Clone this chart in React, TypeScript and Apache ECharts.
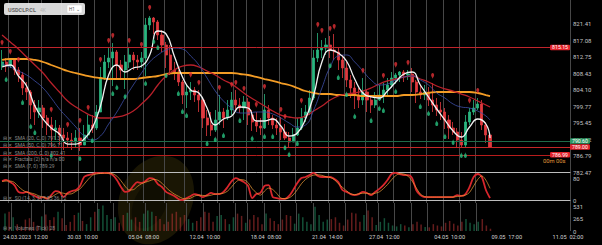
import React, { useEffect, useRef } from 'react';
import * as echarts from 'echarts';

// ---------- data ----------
const firstOpen = 810.28;
const closes = [
  811.33, 810.28, 811.86, 809.23, 807.92, 804.51, 803.46, 800.05, 798.21, 799.26,
  796.64, 794.80, 793.49, 794.01, 792.18, 791.39, 790.86, 790.34, 791.39, 789.55,
  792.18, 794.80, 794.01, 798.21, 807.13, 811.33, 812.38, 813.96, 810.54, 809.23,
  811.33, 813.17, 811.86, 811.33, 812.38, 821.04, 822.88, 821.83, 818.42, 815.79,
  813.17, 809.23, 808.71, 806.08, 802.67, 803.46, 803.98, 802.67, 801.36, 796.64,
  794.80, 793.49, 796.11, 798.21, 796.64, 798.74, 801.36, 800.05, 799.26, 800.84,
  797.42, 795.59, 794.54, 794.01, 798.74, 796.64, 794.80, 794.01, 792.96, 791.39,
  790.34, 792.18, 794.01, 796.64, 798.21, 801.88, 812.38, 814.48, 815.00, 815.79,
  814.48, 813.96, 811.86, 809.76, 806.61, 804.51, 802.67, 801.36, 803.46, 801.36,
  800.05, 801.36, 802.67, 803.98, 805.30, 807.13, 807.92, 808.71, 807.92, 808.18,
  806.08, 803.46, 802.67, 803.46, 801.36, 800.05, 798.74, 798.21, 796.11, 794.01,
  792.96, 790.86, 789.55, 795.59, 798.21, 799.26, 800.31, 794.80, 792.18, 789.00,
];
const highs = [
  814.48, 812.38, 812.12, 812.38, 810.02, 808.71, 806.08, 803.98, 801.36, 801.36,
  800.05, 797.42, 796.90, 796.11, 794.80, 794.01, 792.96, 792.70, 793.49, 794.01,
  794.80, 797.42, 797.42, 800.05, 810.02, 813.17, 815.00, 816.32, 814.48, 811.86,
  813.17, 815.00, 813.96, 813.17, 813.96, 822.88, 823.40, 823.14, 822.35, 819.73,
  816.58, 815.79, 811.33, 809.23, 806.61, 805.30, 806.08, 804.77, 803.98, 801.88,
  798.74, 798.21, 798.74, 802.67, 799.26, 801.36, 803.46, 803.98, 801.88, 802.41,
  801.88, 798.74, 798.21, 796.64, 802.93, 800.05, 797.42, 796.64, 796.90, 795.06,
  792.96, 794.01, 796.64, 799.26, 800.05, 803.98, 814.48, 818.94, 817.10, 817.63,
  818.15, 818.68, 815.00, 813.17, 811.33, 807.92, 806.08, 804.51, 807.13, 803.98,
  802.67, 803.46, 805.30, 805.82, 807.13, 808.71, 808.44, 808.97, 809.23, 809.23,
  809.76, 806.61, 805.30, 805.30, 804.77, 805.82, 801.88, 800.84, 799.26, 797.42,
  795.59, 794.01, 792.96, 797.42, 799.26, 801.36, 801.88, 801.36, 795.59, 792.70,
];
const lows = [
  809.23, 808.71, 809.76, 807.92, 806.08, 802.67, 801.36, 796.37, 794.80, 796.64,
  794.01, 792.18, 788.76, 790.86, 789.55, 788.24, 788.76, 788.24, 788.76, 787.98,
  789.55, 791.39, 792.70, 793.49, 798.21, 806.61, 809.76, 805.03, 806.61, 807.13,
  804.25, 809.76, 809.23, 809.23, 809.76, 807.66, 819.73, 818.68, 817.10, 813.96,
  809.76, 807.92, 806.61, 805.03, 800.31, 799.26, 801.36, 800.84, 798.21, 794.01,
  791.91, 791.91, 792.96, 794.80, 794.01, 796.11, 797.42, 798.21, 797.95, 796.11,
  794.80, 793.23, 792.96, 792.18, 793.75, 794.80, 793.75, 792.18, 790.86, 790.86,
  789.03, 790.34, 791.91, 793.49, 795.59, 797.42, 801.36, 811.33, 812.38, 813.17,
  812.38, 811.86, 809.23, 807.13, 804.77, 801.88, 799.00, 799.26, 800.05, 798.21,
  797.95, 799.26, 801.10, 800.57, 802.67, 804.51, 805.56, 806.08, 806.08, 806.61,
  803.46, 800.57, 801.62, 801.36, 799.79, 798.21, 797.16, 796.11, 793.75, 791.13,
  792.18, 788.76, 788.76, 788.76, 794.80, 797.42, 798.74, 793.49, 790.08, 788.76,
];
const volumes = [
  380, 420, 300, 150, 90, 250, 280, 200, 120, 320, 360, 240, 300, 420, 280, 130,
  200, 350, 400, 220, 150, 300, 420, 480, 560, 350, 260, 300, 180, 350, 400, 250,
  300, 200, 380, 450, 420, 330, 260, 150, 200, 380, 420, 300, 350, 260, 180, 220,
  300, 420, 400, 200, 330, 350, 260, 150, 300, 380, 330, 180, 250, 350, 300, 150,
  380, 280, 220, 150, 250, 350, 330, 160, 380, 300, 200, 150, 530, 350, 200, 250,
  260, 300, 180, 120, 250, 400, 380, 200, 350, 450, 300, 130, 200, 280, 180, 120,
  100, 150, 120, 80, 150, 200, 140, 90, 80, 150, 120, 100, 180, 220, 160, 120,
  200, 260, 180, 150, 200, 260, 120, 50,
];
const stochMain = [
  70, 74, 66, 55, 30, 26, 30, 22, 15, 7, 11, 4, 18, 33, 30, 11, 26, 33, 37, 52,
  85, 92, 96, 100, 99, 100, 99, 92, 74, 48, 30, 33, 52, 66, 63, 70, 81, 78, 59, 48,
  30, 22, 15, 4, 0, 7, 15, 22, 18, 11, 18, 26, 22, 22, 30, 48, 70, 81, 74, 66,
  52, 7, 22, 26, 52, 55, 11, 7, 4, 4, 15, 37, 63, 81, 85, 92, 100, 89, 85, 85,
  85, 78, 66, 37, 30, 22, 18, 22, 30, 26, 18, 30, 41, 55, 74, 96, 100, 96, 92, 92,
  81, 37, 18, 11, 11, 11, 11, 11, 11, 11, 11, 18, 15, 22, 48, 85, 96, 85, 37, 7,
];
const stochSignal = [
  68, 70, 70, 65, 50, 37, 29, 26, 22, 15, 11, 7, 11, 20, 27, 25, 22, 23, 32, 41,
  58, 76, 91, 96, 98, 99, 99, 97, 88, 71, 51, 37, 38, 50, 60, 66, 71, 76, 73, 62,
  46, 33, 22, 14, 6, 4, 7, 15, 18, 17, 15, 18, 22, 23, 25, 33, 49, 66, 75, 74,
  64, 42, 27, 18, 33, 44, 39, 24, 7, 5, 8, 19, 38, 60, 76, 86, 92, 93, 91, 86,
  83, 76, 60, 47, 34, 23, 20, 23, 25, 25, 22, 25, 30, 42, 57, 75, 90, 97, 96, 88,
  70, 45, 22, 13, 11, 11, 11, 11, 11, 11, 11, 13, 15, 18, 28, 52, 76, 89, 73, 43,
];
// moving averages, one value per two candles (last one on the final candle)
const sma20 = [
  810.02, 810.54, 807.66, 805.03, 799.79, 796.37, 794.01, 792.44, 789.81, 789.81,
  791.13, 794.01, 799.79, 807.92, 810.54, 808.71, 809.76, 810.28, 813.17, 819.47,
  818.68, 812.91, 807.40, 803.98, 803.20, 799.26, 794.80, 796.37, 797.16, 799.52,
  799.26, 795.85, 795.85, 796.37, 794.54, 791.91, 792.70, 796.37, 802.67, 811.33,
  814.48, 813.69, 811.59, 806.87, 803.20, 802.15, 801.88, 803.72, 806.08, 808.18,
  808.71, 805.30, 802.15, 799.00, 796.11, 793.23, 791.65, 794.28, 796.37, 795.06,
  791.39,
];
const sma50 = [
  810.81, 810.02, 808.97, 807.92, 806.35, 804.51, 801.88, 799.00, 796.64, 794.28,
  791.91, 790.86, 791.91, 795.06, 798.21, 801.88, 805.30, 808.44, 811.33, 813.17,
  814.48, 815.00, 814.74, 812.91, 810.54, 807.13, 803.72, 801.10, 799.26, 797.95,
  797.95, 798.21, 798.21, 797.69, 796.64, 795.33, 794.28, 794.80, 798.74, 804.51,
  810.02, 812.91, 813.17, 811.33, 808.97, 806.61, 805.30, 805.56, 806.61, 807.40,
  807.66, 806.61, 805.30, 803.20, 801.88, 800.31, 799.52, 799.26, 798.47, 797.16,
  796.11,
];
const sma100 = [
  818.42, 816.58, 814.74, 812.64, 810.54, 808.44, 805.82, 803.46, 801.10, 799.52,
  798.21, 797.16, 796.64, 796.64, 796.90, 797.42, 798.47, 800.31, 802.41, 805.30,
  807.66, 809.23, 810.28, 810.54, 810.02, 808.97, 807.92, 806.61, 805.56, 803.98,
  802.41, 801.10, 799.79, 798.47, 797.42, 796.90, 796.64, 797.16, 798.47, 799.79,
  801.36, 802.41, 802.93, 803.20, 803.72, 804.51, 805.56, 806.35, 806.87, 807.40,
  807.66, 806.87, 806.08, 805.03, 804.25, 803.72, 802.93, 802.15, 801.10, 800.05,
  799.52,
];
const sma200 = [
  811.86, 812.12, 812.12, 812.12, 811.86, 811.33, 810.54, 809.76, 808.97, 808.44,
  807.92, 807.40, 807.13, 806.87, 806.87, 806.87, 806.87, 807.13, 807.40, 807.66,
  808.18, 808.44, 808.44, 808.44, 808.44, 808.44, 808.44, 808.44, 808.44, 808.18,
  807.92, 807.40, 806.87, 806.35, 805.82, 805.30, 804.51, 803.72, 803.20, 802.93,
  802.93, 802.67, 802.67, 802.67, 802.41, 802.41, 802.41, 802.41, 802.41, 802.67,
  802.67, 802.93, 803.20, 803.46, 803.46, 803.46, 803.46, 803.46, 803.20, 802.67,
  802.41,
];
const fractalUp = [
  [0, 815.53], [2, 813.17], [4, 811.07], [12, 797.95], [16, 794.01], [19, 795.06],
  [21, 798.47], [24, 811.07], [26, 816.05], [27, 817.37], [31, 816.05], [34, 815.0],
  [36, 824.71], [46, 807.13], [48, 805.03], [53, 803.72], [56, 804.51], [57, 805.03],
  [59, 803.46], [62, 799.26], [64, 803.98], [68, 797.95], [69, 796.11], [73, 800.31],
  [77, 820.25], [78, 818.68], [80, 819.2], [81, 819.73], [88, 808.18], [93, 806.87],
  [96, 809.76], [99, 810.28], [105, 806.87], [114, 800.31], [116, 802.93],
];
const fractalDown = [
  [1, 807.66], [5, 801.62], [7, 795.33], [8, 793.75], [12, 787.72], [19, 786.93],
  [22, 791.65], [27, 803.98], [28, 805.56], [30, 803.2], [35, 806.61], [37, 817.63],
  [38, 816.05], [40, 808.71], [43, 803.98], [44, 799.26], [45, 798.21], [50, 790.86],
  [52, 791.91], [54, 792.96], [58, 796.9], [61, 792.18], [64, 792.7], [66, 792.7],
  [69, 789.81], [70, 787.98], [72, 790.86], [80, 811.33], [82, 808.18], [84, 803.72],
  [86, 797.95], [90, 796.9], [92, 800.05], [93, 799.52], [96, 804.51], [102, 800.57],
  [104, 798.74], [106, 796.11], [108, 792.7], [110, 791.13], [112, 787.72], [113, 787.72],
];
const tickLabels = [
  '24.03.2023  12:00', '30.03  10:00', '05.04  08:00', '12.04  10:00', '18.04  08:00',
  '21.04  14:00', '27.04  12:00', '04.05  10:00', '09.05  17:00', '11.05  02:00',
];
const tickIndex = [5, 19, 34, 49, 64, 79, 93, 109, 123, 138];
const dayBreaks = [2, 7, 10, 15, 19, 23, 27, 31, 35, 40, 45, 49, 53, 57, 60, 64, 68, 72, 76, 80, 84, 89, 92, 96, 100, 104, 108, 112, 116];
const priceTicks = [821.41, 817.08, 812.75, 808.43, 804.1, 799.77, 795.45, 791.12, 786.79, 782.47];
const oscTicks = [0, 80];
const volTicks = [0, 265, 531];
const resistance = 815.15;
const askLevel = 790.6;
const bidLevel = 789.0;
const supportLevel = 786.99;
const slotCount = 139;

// ---------- derived structures ----------
const categories = Array.from({ length: slotCount }, (_, i) => 'c' + i);
const labelMap: Record<number, string> = {};
tickIndex.forEach((idx, k) => { labelMap[idx] = tickLabels[k]; });
const breakSet = new Set(dayBreaks);
const opens = closes.map((c, i) => (i === 0 ? firstOpen : closes[i - 1]));
const candleData = closes.map((c, i) => [opens[i], c, lows[i], highs[i]]);
const maIdx = [...Array.from({ length: 60 }, (_, k) => 2 * k), 119];
const pairs = (arr: number[]) => arr.map((v, k) => [maIdx[k], v]);

const UP = '#2ab57f';
const DOWN = '#e0393e';
const FONT = 'Roboto, sans-serif';

function xAxis(gridIndex: number) {
  return {
    type: 'category',
    gridIndex,
    data: categories,
    boundaryGap: true,
    axisTick: { show: false },
    axisLine: { show: gridIndex < 2, lineStyle: { color: '#bdbdbd', width: 1 } },
    axisLabel: gridIndex === 2
      ? {
          show: true,
          color: '#d0d0d0',
          fontSize: 5.6,
          fontFamily: FONT,
          margin: 3,
          interval: (idx: number) => labelMap[idx] !== undefined,
          formatter: (_v: string, idx: number) => labelMap[idx] || '',
        }
      : { show: false },
    splitLine: {
      show: true,
      interval: (idx: number) => breakSet.has(idx),
      lineStyle: { color: '#474747', width: 1 },
    },
  };
}

function yAxis(gridIndex: number, min: number, max: number, ticks: number[], dec: number) {
  return {
    type: 'value',
    gridIndex,
    position: 'right',
    min,
    max,
    scale: true,
    splitLine: { show: false },
    axisLine: { show: false },
    axisTick: { show: false },
    axisLabel: {
      show: true,
      color: '#c4c4c4',
      fontSize: 6,
      fontFamily: FONT,
      margin: 3,
      customValues: ticks,
      formatter: (v: number) => v.toFixed(dec),
    },
  };
}

const legendStyle = { fill: '#8a8a8a', fontSize: 5, fontFamily: FONT, verticalAlign: 'middle' };
function legendRow(y: number, text: string) {
  return {
    type: 'text', x: 3, y, z: 20, silent: true,
    style: { ...legendStyle, text: '\u229F \u2715  ' + text },
  };
}

export default function App() {
  const ref = useRef<HTMLDivElement>(null);
  useEffect(() => {
    if (!ref.current) return;
    const chart = echarts.init(ref.current, undefined, { renderer: 'svg' });
    const lineLabel = (bg: string, pos: string, dist: number) => ({
      show: true,
      position: pos,
      distance: dist,
      formatter: (p: any) => Number(p.value).toFixed(2),
      color: '#ffffff',
      backgroundColor: bg,
      padding: [0.5, 2, 0, 2],
      borderRadius: 1,
      fontSize: 5.2,
      fontFamily: FONT,
    });
    chart.setOption({
      animation: false,
      backgroundColor: '#000000',
      textStyle: { fontFamily: FONT },
      grid: [
        { left: 0, top: 0, width: 570, height: 172 },
        { left: 0, top: 172, width: 570, height: 31 },
        { left: 0, top: 203, width: 570, height: 28 },
      ],
      xAxis: [xAxis(0), xAxis(1), xAxis(2)],
      yAxis: [
        yAxis(0, 782.47, 827.6, priceTicks, 2),
        yAxis(1, -11, 103.4, oscTicks, 0),
        yAxis(2, 0, 612, volTicks, 0),
      ],
      series: [
        {
          type: 'candlestick',
          xAxisIndex: 0,
          yAxisIndex: 0,
          data: candleData,
          barWidth: 2.6,
          itemStyle: { color: UP, color0: DOWN, borderColor: UP, borderColor0: DOWN, borderWidth: 0.8 },
          markLine: {
            silent: true,
            symbol: 'none',
            data: [
              { yAxis: resistance, lineStyle: { color: '#c0242b', width: 1, type: 'solid' }, label: lineLabel('#e3232b', 'insideEnd', 0) },
              { yAxis: askLevel, lineStyle: { color: '#1f6b48', width: 1, type: 'solid' }, label: lineLabel('#2f9a64', 'end', 0) },
              { yAxis: bidLevel, lineStyle: { color: '#c62828', width: 1, type: 'solid' }, label: lineLabel('#e3232b', 'end', 0) },
              { yAxis: supportLevel, lineStyle: { color: '#b71c1c', width: 1, type: 'solid' }, label: lineLabel('#e3232b', 'insideEnd', 0) },
            ],
          },
        },
        {
          type: 'line', xAxisIndex: 0, yAxisIndex: 0, data: pairs(sma200), smooth: 0.5,
          showSymbol: false, lineStyle: { color: '#f39c25', width: 1.8 }, z: 3,
        },
        {
          type: 'line', xAxisIndex: 0, yAxisIndex: 0, data: pairs(sma100), smooth: 0.5,
          showSymbol: false, lineStyle: { color: '#b8202a', width: 1.3 }, z: 3,
        },
        {
          type: 'line', xAxisIndex: 0, yAxisIndex: 0, data: pairs(sma50), smooth: 0.5,
          showSymbol: false, lineStyle: { color: '#3d4fa8', width: 0.8 }, z: 3,
        },
        {
          type: 'line', xAxisIndex: 0, yAxisIndex: 0, data: pairs(sma20), smooth: 0.5,
          showSymbol: false, lineStyle: { color: '#f2f2f2', width: 1.3 }, z: 4,
        },
        {
          type: 'scatter', xAxisIndex: 0, yAxisIndex: 0, data: fractalUp,
          symbol: 'pin', symbolSize: [5, 7], itemStyle: { color: '#e02f35' }, z: 5,
        },
        {
          type: 'scatter', xAxisIndex: 0, yAxisIndex: 0, data: fractalDown,
          symbol: 'pin', symbolSize: [5, 7], symbolRotate: 180, itemStyle: { color: '#27c27f' }, z: 5,
        },
        {
          type: 'line', xAxisIndex: 1, yAxisIndex: 1, data: stochMain, smooth: 0.3,
          showSymbol: false, lineStyle: { color: '#d8262c', width: 1.8 },
        },
        {
          type: 'line', xAxisIndex: 1, yAxisIndex: 1, data: stochSignal, smooth: 0.3,
          showSymbol: false, lineStyle: { color: '#f5a03a', width: 0.7 },
        },
        {
          type: 'bar', xAxisIndex: 2, yAxisIndex: 2, barWidth: 1.5,
          data: volumes.map((v, i) => ({
            value: v,
            itemStyle: { color: closes[i] >= opens[i] ? 'rgba(38,160,110,0.5)' : 'rgba(200,55,55,0.5)' },
          })),
        },
      ],
      graphic: [
        { type: 'ellipse', z: -1, silent: true, x: 156, y: 200, rotation: -0.45, shape: { cx: 0, cy: 0, rx: 36, ry: 46 }, style: { fill: 'rgba(95,80,15,0.28)' } },
        { type: 'ellipse', z: -1, silent: true, x: 150, y: 204, rotation: -0.45, shape: { cx: 0, cy: 0, rx: 16, ry: 26 }, style: { fill: 'rgba(0,0,0,0.35)' } },
        { type: 'rect', z: 20, silent: true, shape: { x: 4, y: 3, width: 81, height: 12, r: 2 }, style: { fill: 'rgba(236,236,236,0.92)' } },
        { type: 'text', z: 21, silent: true, x: 8, y: 9.5, style: { text: 'USDCLP.CL', fill: '#666666', fontSize: 5.5, fontWeight: 'bold', fontFamily: FONT, verticalAlign: 'middle' } },
        { type: 'text', z: 21, silent: true, x: 40, y: 9.5, style: { text: '4K', fill: '#b5b5b5', fontSize: 5, fontFamily: FONT, verticalAlign: 'middle' } },
        { type: 'rect', z: 21, silent: true, shape: { x: 67, y: 5, width: 15, height: 8, r: 1 }, style: { fill: '#ffffff', stroke: '#cfcfcf', lineWidth: 0.5 } },
        { type: 'text', z: 22, silent: true, x: 69, y: 9.2, style: { text: 'H1 \u2304', fill: '#555555', fontSize: 4.5, fontFamily: FONT, verticalAlign: 'middle' } },
        legendRow(137.5, 'SMA (20, C, 0) 791.39'),
        legendRow(145, 'SMA (50, C, 0) 796.11'),
        legendRow(152.5, 'SMA (200, C, 0) 802.41'),
        legendRow(159, 'Fractals (2) n/a n/a 00'),
        legendRow(165.5, 'SMA (7, 0) 789.29'),
        legendRow(198, 'SO (14, 3, 3) 7.05 36.12'),
        legendRow(228, 'Volumes (Tick) 28'),
        { type: 'text', z: 21, silent: true, x: 543, y: 161, style: { text: '00m 00s', fill: '#e39a3a', fontSize: 5.8, fontFamily: FONT, verticalAlign: 'middle' } },
      ],
    });
    return () => chart.dispose();
  }, []);
  return <div ref={ref} style={{ position: 'fixed', left: 0, top: 0, width: 602, height: 245, background: '#000' }} />;
}
